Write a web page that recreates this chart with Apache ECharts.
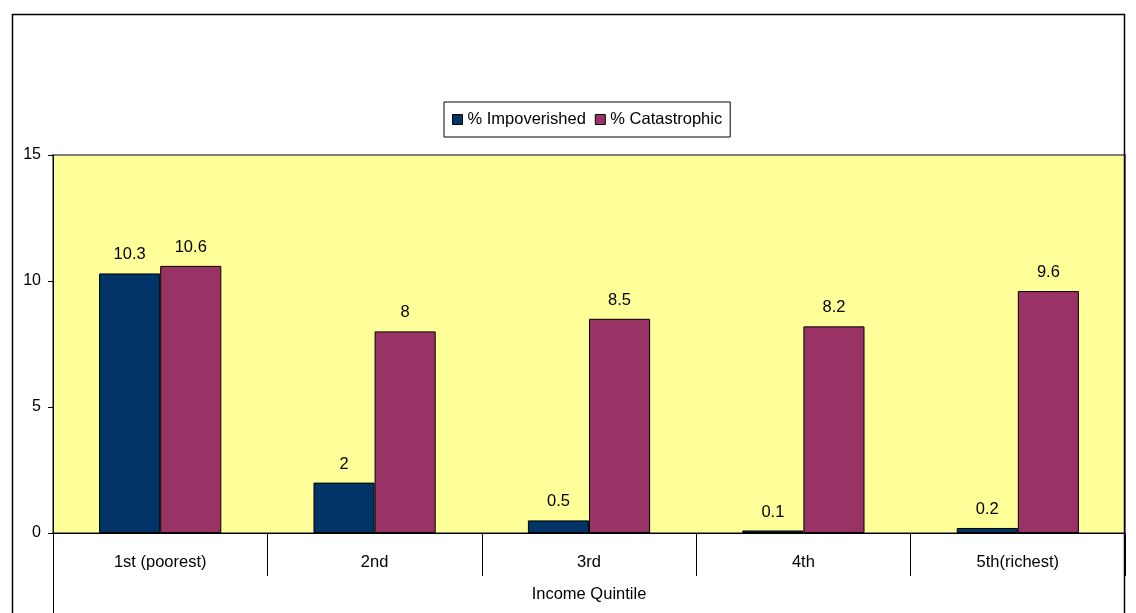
<!DOCTYPE html>
<html><head><meta charset="utf-8">
<script src="https://cdn.jsdelivr.net/npm/echarts@6/dist/echarts.min.js"></script>
<style>html,body{margin:0;padding:0;background:#fff}#c{width:1136px;height:613px}</style>
</head><body><div id="c"></div>
<script>
const categories = ['1st (poorest)', '2nd', '3rd', '4th', '5th(richest)'];
const impoverished = [10.3, 2, 0.5, 0.1, 0.2];
const catastrophic = [10.6, 8, 8.5, 8.2, 9.6];
const seriesNames = ['% Impoverished', '% Catastrophic'];
const xTitle = 'Income Quintile';

const chart = echarts.init(document.getElementById('c'), null, {renderer: 'canvas'});
const font = 'Liberation Sans, Arial, sans-serif';
const lbl = {show: true, position: 'top', distance: 10, color: '#000', fontSize: 16.5, fontFamily: font};
chart.setOption({
  animation: false,
  textStyle: {fontFamily: font},
  grid: {left: 53, top: 155, right: 11, bottom: 80, show: true, backgroundColor: '#FFFF99', borderColor: '#808080', borderWidth: 2},
  legend: {
    left: 444, top: 102, orient: 'horizontal',
    data: seriesNames, icon: 'rect', itemWidth: 10, itemHeight: 10, itemGap: 9,
    padding: [9, 8, 9, 8], borderColor: '#000', borderWidth: 1,
    textStyle: {fontSize: 16.5, color: '#000', fontFamily: font},
    itemStyle: {borderColor: '#000', borderWidth: 1}
  },
  xAxis: {
    type: 'category', data: categories,
    axisLine: {lineStyle: {color: '#000', width: 1}},
    axisTick: {show: true, length: 43, interval: 0, lineStyle: {color: '#000'}},
    axisLabel: {color: '#000', fontSize: 16.5, margin: 21, fontFamily: font},
    name: xTitle, nameLocation: 'middle', nameGap: 53,
    nameTextStyle: {color: '#000', fontSize: 16.5, fontFamily: font}
  },
  yAxis: {
    type: 'value', min: 0, max: 15, interval: 5,
    axisLine: {show: true, lineStyle: {color: '#000', width: 1}},
    axisTick: {show: true, length: 5, lineStyle: {color: '#000'}},
    splitLine: {show: false},
    axisLabel: {color: '#000', fontSize: 16, margin: 12, fontFamily: font}
  },
  series: [
    {name: seriesNames[0], type: 'bar', data: impoverished, barGap: '0%', barCategoryGap: '43%',
     itemStyle: {color: '#003366', borderColor: '#000', borderWidth: 1}, label: lbl},
    {name: seriesNames[1], type: 'bar', data: catastrophic,
     itemStyle: {color: '#993366', borderColor: '#000', borderWidth: 1}, label: lbl}
  ],
  graphic: [
    {type: 'rect', shape: {x: 12.5, y: 14.5, width: 1112, height: 620}, style: {fill: null, stroke: '#000', lineWidth: 1.5}, z: 100},
    {type: 'line', shape: {x1: 53.5, y1: 533, x2: 53.5, y2: 613}, style: {stroke: '#000', lineWidth: 1}, z: 100},
    {type: 'line', shape: {x1: 1124.5, y1: 533, x2: 1124.5, y2: 613}, style: {stroke: '#000', lineWidth: 1}, z: 100}
  ]
});
</script></body></html>
